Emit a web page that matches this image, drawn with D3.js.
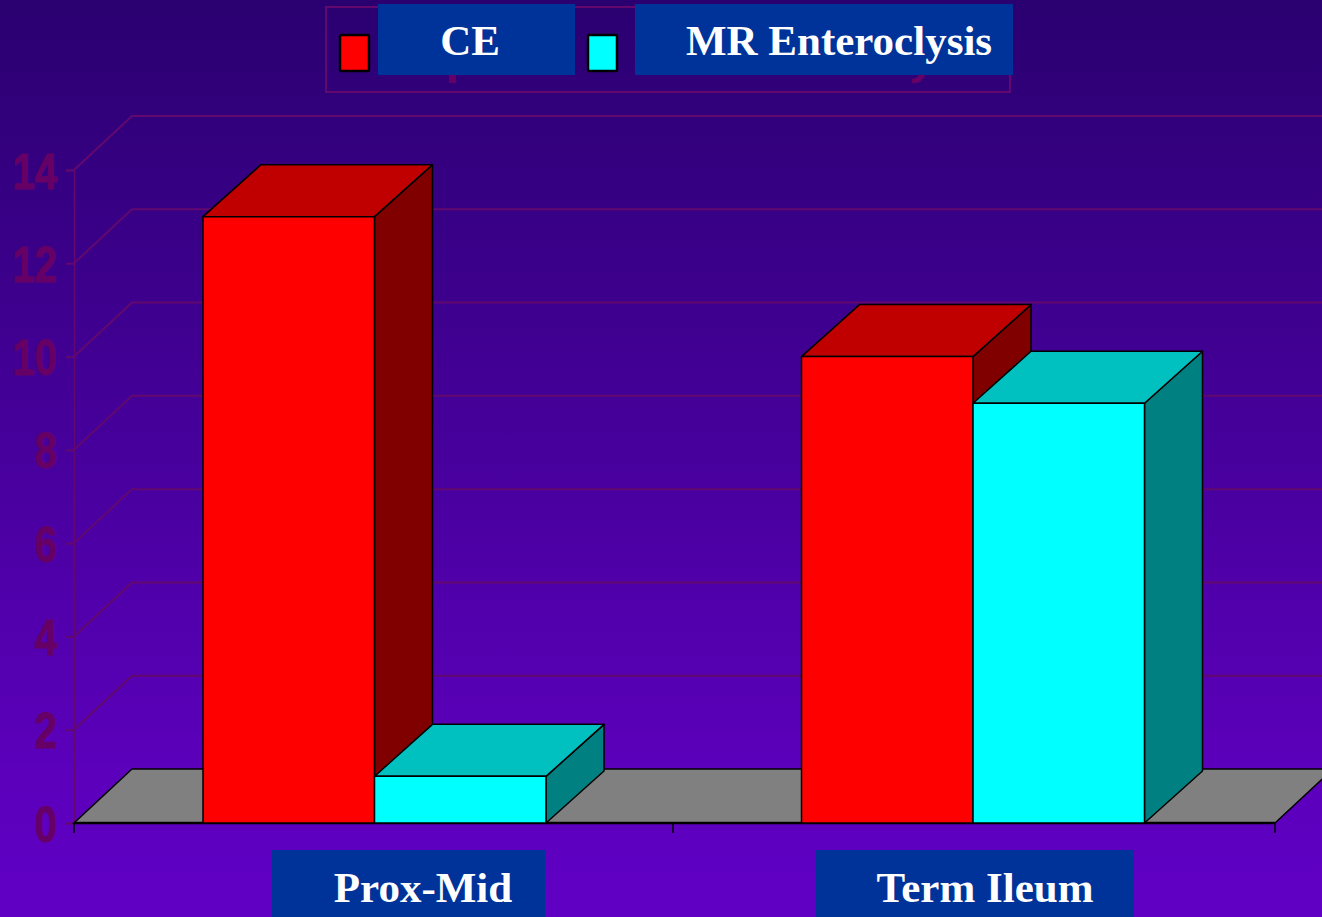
<!DOCTYPE html>
<html lang="en">
<head>
    <meta charset="UTF-8">
    <title>CE vs MR Enteroclysis</title>
    <script src="https://d3js.org/d3.v7.min.js"></script>
    <style>
      html, body { margin: 0; padding: 0; background: #3a0090; overflow: hidden; }
      svg { display: block; }
      .serif { font-family: "Liberation Serif", serif; font-weight: bold; fill: #fff; font-size: 43px; }
      .sans { font-family: "Liberation Sans", sans-serif; font-weight: bold; font-size: 50px; }
    </style>
</head>
<body>
<div class="chart"></div>
<script>
  const categories = ['Prox-Mid', 'Term Ileum'];
  const seriesNames = ['CE', 'MR Enteroclysis'];
  const ceValues = [13, 10];
  const mrValues = [1, 9];
  const yTicks = [0, 2, 4, 6, 8, 10, 12, 14];

  const W = 1322, H = 917;
  const plot = { left: 74, right: 1275, base: 823, top: 170 };
  const xBounds = [74, 673, 1275];
  const depth = { x: 58, y: -52 };
  const wallDepth = { x: 58, y: -54 };
  const wallColor = '#62086e';
  const labelColor = '#660066';
  const boxColor = '#003399';

  const colors = {
    CE: { front: '#ff0000', top: '#c00000', side: '#800000' },
    'MR Enteroclysis': { front: '#00ffff', top: '#00c0c0', side: '#008080' }
  };

  const svg = d3.select('.chart').append('svg').attr('width', W).attr('height', H);

  const grad = svg.append('defs').append('linearGradient')
    .attr('id', 'bg').attr('x1', 0).attr('x2', 0).attr('y1', 0).attr('y2', 1);
  grad.append('stop').attr('offset', '0%').attr('stop-color', '#2a0070');
  grad.append('stop').attr('offset', '85%').attr('stop-color', '#5c00bc');
  grad.append('stop').attr('offset', '100%').attr('stop-color', '#6000c4');
  svg.append('rect').attr('width', W).attr('height', H).attr('fill', 'url(#bg)');

  const xScale = d3.scaleBand().domain(categories).range([plot.left, 1271]);
  const xScale2 = d3.scaleBand().domain(seriesNames).range([129, 472]);
  const yScale = d3.scaleLinear().domain([0, 14]).range([plot.base, plot.top]);

  // back wall + left wall grid
  const grid = svg.append('g').attr('fill', 'none').attr('stroke', wallColor).attr('stroke-width', 2);
  grid.selectAll('path').data(yTicks.slice(1)).enter().append('path')
    .attr('d', d => `M${plot.left},${yScale(d)}l${wallDepth.x},${wallDepth.y}H${W}`);

  // y axis
  const yAxis = d3.axisLeft(yScale).tickValues(yTicks).tickSize(8).tickPadding(0);
  const yG = svg.append('g').attr('transform', `translate(${plot.left} 0)`).call(yAxis);
  yG.select('.domain').attr('stroke', wallColor).attr('stroke-width', 1.5);
  yG.selectAll('.tick line').attr('stroke', wallColor).attr('stroke-width', 2);
  yG.selectAll('.tick text')
    .attr('class', 'sans')
    .attr('x', 0).attr('dy', '0.36em')
    .attr('transform', 'translate(-17 0) scale(.8 1)')
    .attr('fill', labelColor)
    .attr('stroke', labelColor).attr('stroke-width', 1);

  // floor
  svg.append('path')
    .attr('d', `M${plot.left},${plot.base}l${wallDepth.x},${wallDepth.y}H${plot.right + wallDepth.x}L${plot.right},${plot.base}Z`)
    .attr('fill', '#808080').attr('stroke', '#000').attr('stroke-width', 1.5);

  // x axis line and boundary ticks
  const xAxisG = svg.append('g').attr('stroke', '#000');
  xAxisG.append('line').attr('x1', plot.left).attr('x2', plot.right)
    .attr('y1', plot.base).attr('y2', plot.base).attr('stroke-width', 2.5);
  xAxisG.selectAll('.xt').data(xBounds).enter().append('line')
    .attr('class', 'xt')
    .attr('x1', d => d).attr('x2', d => d)
    .attr('y1', plot.base).attr('y2', plot.base + 10).attr('stroke-width', 1.5);

  // bars
  const rows = categories.map((c, i) => ({ category: c, items: [
    { key: seriesNames[0], value: ceValues[i] },
    { key: seriesNames[1], value: mrValues[i] }
  ]}));
  const bars = svg.selectAll('.bar').data(rows).enter().append('g').attr('class', 'bar')
    .attr('transform', d => `translate(${xScale(d.category)} 0)`);
  const bar = bars.selectAll('g').data(d => d.items).enter().append('g')
    .attr('stroke', '#000').attr('stroke-width', 1.5).attr('stroke-linejoin', 'round');
  const bw = xScale2.bandwidth();
  bar.append('path').attr('fill', d => colors[d.key].side)
    .attr('d', d => `M${xScale2(d.key) + bw},${yScale(d.value)}l${depth.x},${depth.y}V${plot.base + depth.y}l${-depth.x},${-depth.y}Z`);
  bar.append('path').attr('fill', d => colors[d.key].top)
    .attr('d', d => `M${xScale2(d.key)},${yScale(d.value)}l${depth.x},${depth.y}h${bw}l${-depth.x},${-depth.y}Z`);
  bar.append('rect').attr('fill', d => colors[d.key].front)
    .attr('x', d => xScale2(d.key)).attr('y', d => yScale(d.value))
    .attr('width', bw).attr('height', d => plot.base - yScale(d.value));

  // legend frame and swatches
  svg.append('rect').attr('x', 326).attr('y', 7).attr('width', 684).attr('height', 85)
    .attr('fill', 'none').attr('stroke', wallColor).attr('stroke-width', 2);
  svg.selectAll('.swatch').data(seriesNames).enter().append('rect').attr('class', 'swatch')
    .attr('x', (d, i) => [340, 588][i]).attr('y', 35).attr('width', 29).attr('height', 36).attr('rx', 1)
    .attr('fill', d => colors[d].front).attr('stroke', '#000').attr('stroke-width', 2.5);

  // bits of the old legend text still peek out below the pasted boxes
  svg.selectAll('.old').data(['M449,75h7v8h-7Z', 'M918,75h7l-3,5q-4,4,-10,3v-4q5,0,6,-4Z']).enter().append('path')
    .attr('class', 'old').attr('d', d => d).attr('fill', labelColor);

  // blue label boxes pasted over the chart
  const boxes = [
    { text: seriesNames[0], x: 378, y: 4, w: 197, h: 71, tx: 470, ty: 55 },
    { text: seriesNames[1], x: 635, y: 4, w: 378, h: 71, tx: 839, ty: 55 },
    { text: categories[0], x: 272, y: 850, w: 273, h: 67, tx: 423, ty: 902 },
    { text: categories[1], x: 816, y: 850, w: 318, h: 67, tx: 985, ty: 902 }
  ];
  svg.selectAll('.box').data(boxes).enter().append('rect').attr('class', 'box')
    .attr('x', d => d.x).attr('y', d => d.y).attr('width', d => d.w).attr('height', d => d.h)
    .attr('fill', boxColor);
  svg.selectAll('.lab').data(boxes).enter().append('text').attr('class', 'lab serif')
    .attr('x', d => d.tx).attr('y', d => d.ty).attr('text-anchor', 'middle')
    .text(d => d.text);
</script>
</body>
</html>
